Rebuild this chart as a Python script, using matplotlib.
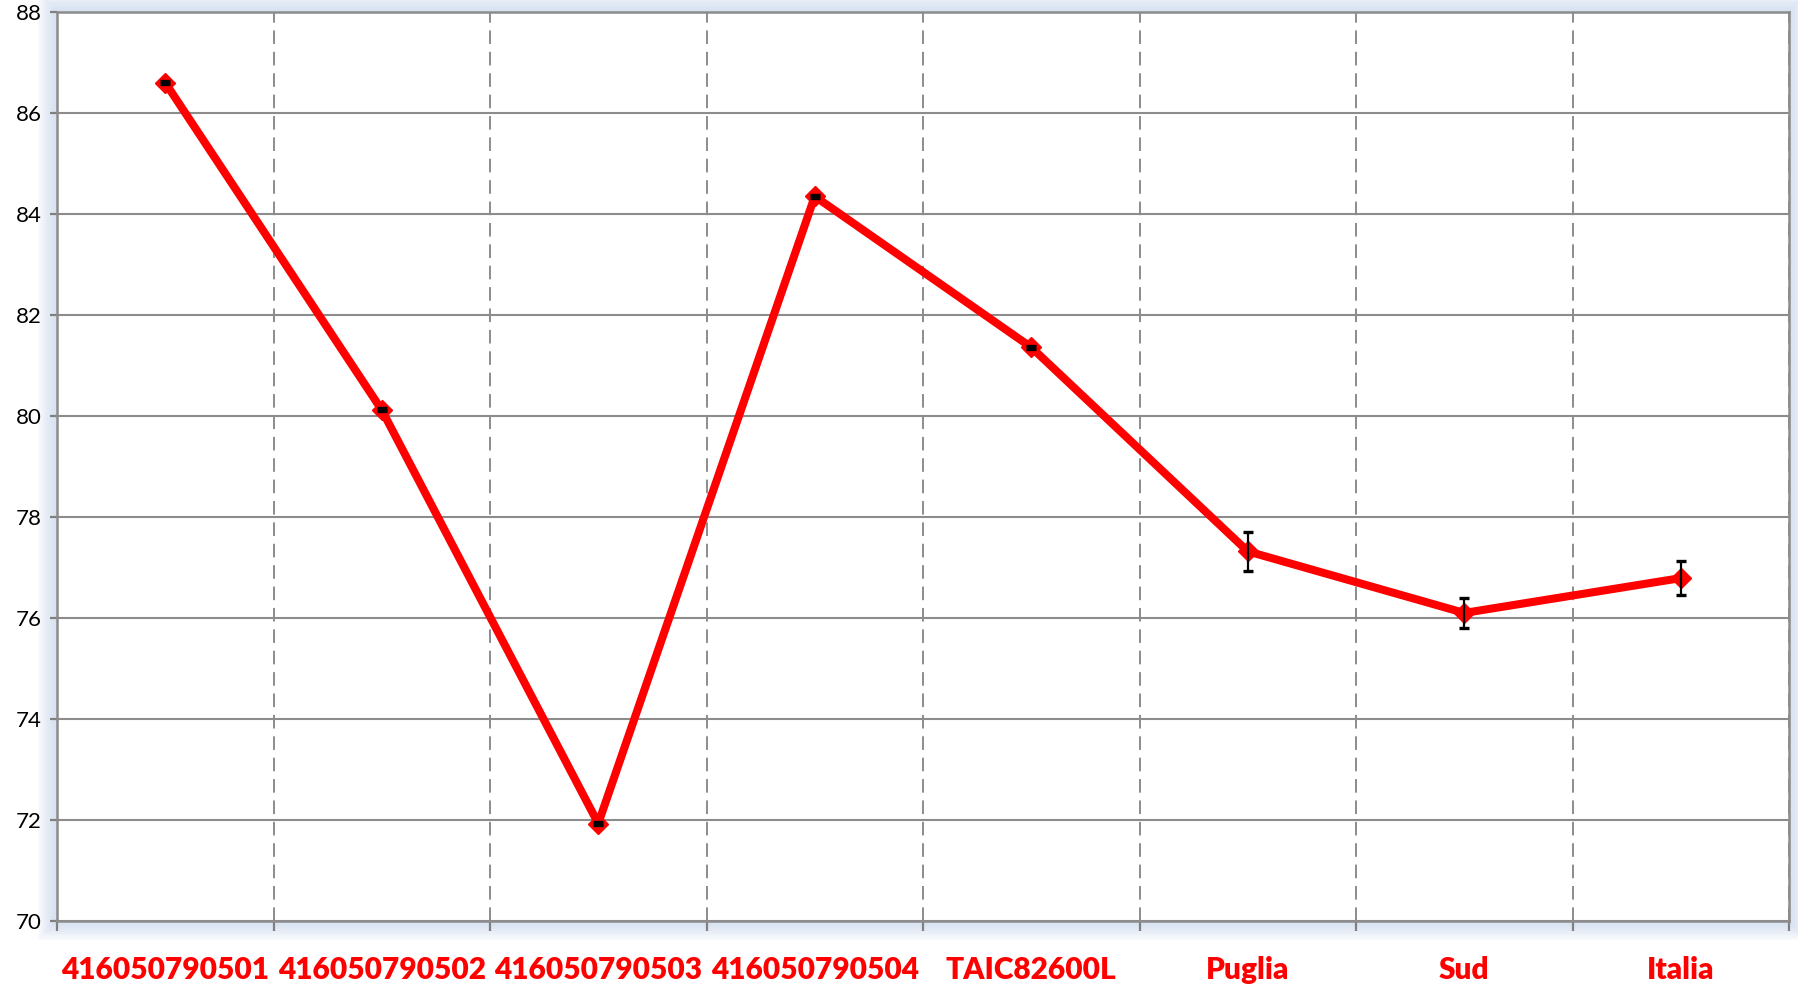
import matplotlib
matplotlib.use("Agg")
import matplotlib.pyplot as plt
from matplotlib.patches import Rectangle
import numpy as np

categories = ["416050790501", "416050790502", "416050790503", "416050790504",
              "TAIC82600L", "Puglia", "Sud", "Italia"]
values = [86.6, 80.12, 71.93, 84.35, 81.36, 77.32, 76.1, 76.79]
errors = [0.03, 0.03, 0.03, 0.03, 0.03, 0.38, 0.3, 0.33]
yticks = [70, 72, 74, 76, 78, 80, 82, 84, 86, 88]

W, H = 1798, 986
fig = plt.figure(figsize=(W / 100, H / 100), dpi=100)
fig.patch.set_facecolor("white")

L, R, B, T = 57 / W, 1789 / W, (H - 921) / H, (H - 12) / H

# soft bluish glow behind the plot area
for i in range(12, 0, -1):
    dx = i * 1.6 / W
    dy = i * 1.6 / H
    rect = Rectangle((L - dx, B - dy), (R - L) + 2 * dx, (T - B) + 2 * dy,
                     transform=fig.transFigure, facecolor="#c9d9ee",
                     edgecolor="none", alpha=0.09, zorder=0)
    fig.add_artist(rect)

ax = fig.add_axes([L, B, R - L, T - B])
ax.set_facecolor("white")
ax.set_zorder(1)

x = np.arange(len(categories))
ax.plot(x, values, color="#ff0000", lw=5.8, marker="D", ms=10,
        mfc="#ff0000", mec="#ff0000", zorder=3, solid_capstyle="round")
ax.errorbar(x, values, yerr=errors, fmt="none", ecolor="black",
            elinewidth=1.6, capsize=3.5, capthick=2.4, zorder=4)

ax.set_xlim(-0.5, len(categories) - 0.5)
ax.set_ylim(70, 88)
ax.set_yticks(yticks)
ax.set_yticklabels([str(v) for v in yticks], fontsize=16, family="Lato")

# major x ticks at category boundaries (for dashed grid), labels at minor
ax.set_xticks(np.arange(-0.5, len(categories) + 0.5, 1.0))
ax.set_xticklabels([])
ax.set_xticks(x, minor=True)
ax.set_xticklabels(categories, minor=True, color="#ff0000",
                   fontsize=21.5, fontweight="heavy", family="Lato")
ax.tick_params(axis="x", which="minor", length=0, pad=25)
ax.tick_params(axis="x", which="major", length=7, width=1.6, color="#808080",
               direction="out")
ax.tick_params(axis="y", length=5, width=1.6, color="#808080", pad=6)

ax.grid(axis="y", color="#8c8c8c", lw=1.5, ls="-", zorder=1)
ax.grid(axis="x", which="major", color="#8c8c8c", lw=1.4, ls=(0, (7, 4)), zorder=1)
ax.set_axisbelow(True)

for s in ax.spines.values():
    s.set_color("#8c8c8c")
    s.set_linewidth(1.8)

fig.savefig("out.png", dpi=100, facecolor="white")
